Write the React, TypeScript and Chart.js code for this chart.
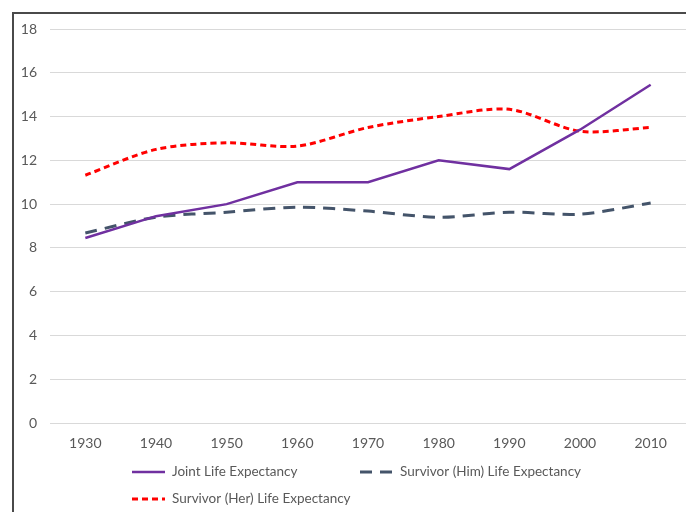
import React, { useEffect, useRef } from "react";
import { Chart, registerables } from "chart.js";

Chart.register(...registerables);

const years = ["1930", "1940", "1950", "1960", "1970", "1980", "1990", "2000", "2010"];
const jointLife = [8.45, 9.45, 10.0, 11.0, 11.0, 12.0, 11.6, 13.4, 15.45];
const himLife = [8.68, 9.4, 9.63, 9.86, 9.68, 9.4, 9.63, 9.54, 10.05];
const herLife = [11.32, 12.5, 12.8, 12.65, 13.5, 14.0, 14.33, 13.33, 13.5];
const seriesNames = ["Joint Life Expectancy", "Survivor (Him) Life Expectancy", "Survivor (Her) Life Expectancy"];

const FONT = "Lato, 'Open Sans', sans-serif";
const TEXT = "#595959";

const legendPlugin = {
  id: "customLegend",
  afterDraw(chart: any) {
    const ctx = chart.ctx;
    const items = [
      { i: 0, x: 132, y: 472 },
      { i: 1, x: 360, y: 472 },
      { i: 2, x: 132, y: 499 },
    ];
    ctx.save();
    ctx.font = `13.5px ${FONT}`;
    ctx.textBaseline = "middle";
    ctx.textAlign = "left";
    items.forEach(({ i, x, y }) => {
      const ds = chart.data.datasets[i];
      ctx.beginPath();
      ctx.strokeStyle = ds.borderColor;
      ctx.lineWidth = ds.borderWidth;
      ctx.setLineDash(ds.borderDash || []);
      ctx.moveTo(x, y);
      ctx.lineTo(x + 33, y);
      ctx.stroke();
      ctx.setLineDash([]);
      ctx.fillStyle = TEXT;
      ctx.fillText(ds.label, x + 40, y);
    });
    ctx.restore();
  },
};

export default function App() {
  const ref = useRef<HTMLCanvasElement>(null);
  useEffect(() => {
    if (!ref.current) return;
    const chart = new Chart(ref.current, {
      type: "line",
      data: {
        labels: years,
        datasets: [
          {
            label: seriesNames[0],
            data: jointLife,
            borderColor: "#7030A0",
            backgroundColor: "#7030A0",
            borderWidth: 2.5,
            pointRadius: 0,
            tension: 0,
          },
          {
            label: seriesNames[1],
            data: himLife,
            borderColor: "#44546A",
            backgroundColor: "#44546A",
            borderWidth: 3,
            borderDash: [12, 8],
            pointRadius: 0,
            tension: 0.3,
          },
          {
            label: seriesNames[2],
            data: herLife,
            borderColor: "#FF0000",
            backgroundColor: "#FF0000",
            borderWidth: 3,
            borderDash: [6, 4],
            pointRadius: 0,
            tension: 0.3,
          },
        ],
      },
      options: {
        animation: false,
        responsive: false,
        maintainAspectRatio: false,
        layout: { padding: { top: 29, left: 0, right: 0, bottom: 0 } },
        plugins: { legend: { display: false }, tooltip: { enabled: false } },
        scales: {
          x: {
            offset: true,
            grid: { display: false, drawTicks: false, offset: true },
            border: { display: false },
            ticks: { color: TEXT, font: { family: FONT, size: 14 }, padding: 12, maxRotation: 0 },
            afterFit: (s: any) => {
              s.height = 89;
            },
          },
          y: {
            min: 0,
            max: 18,
            ticks: { stepSize: 2, color: TEXT, font: { family: FONT, size: 14 }, padding: 13 },
            grid: { color: "#d9d9d9", lineWidth: 1, drawTicks: false },
            border: { display: false },
            afterFit: (s: any) => {
              s.width = 50;
            },
          },
        },
      },
      plugins: [legendPlugin],
    });
    return () => chart.destroy();
  }, []);

  return (
    <div style={{ position: "fixed", left: 0, top: 0, width: 686, height: 512, overflow: "hidden", background: "#fff" }}>
      <div
        style={{
          position: "absolute",
          left: 12,
          top: 12,
          width: 700,
          height: 520,
          borderLeft: "2px solid #4a4a4a",
          borderTop: "2px solid #4a4a4a",
        }}
      />
      <canvas ref={ref} width={686} height={512} style={{ position: "absolute", left: 0, top: 0 }} />
    </div>
  );
}
